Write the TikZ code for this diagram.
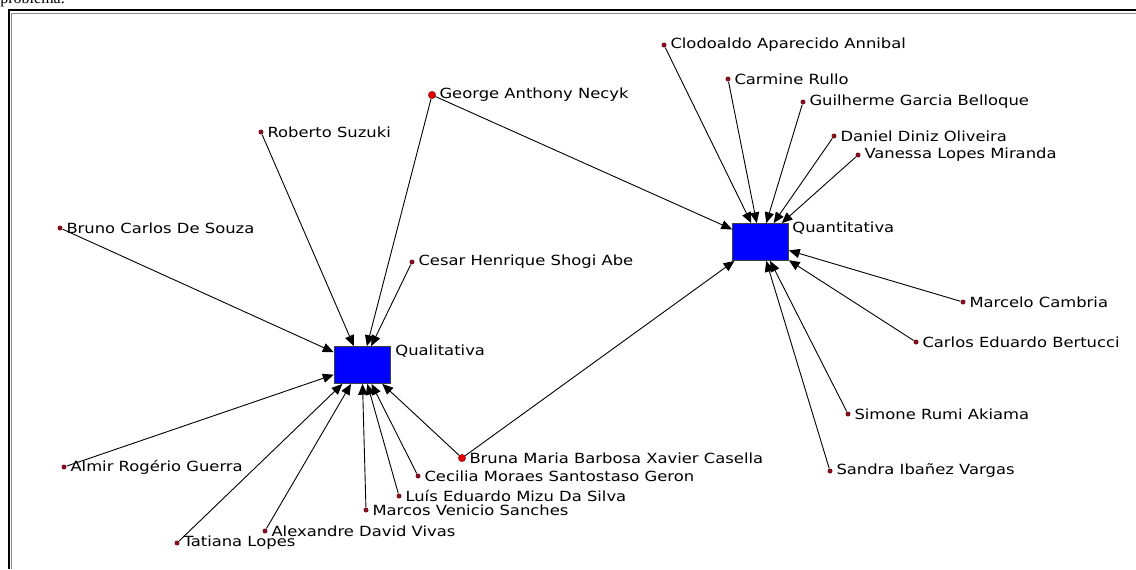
\documentclass[tikz,border=0pt]{standalone}
\usepackage{fontspec}
\setmainfont{DejaVu Sans}
\newfontfamily\rotulofonte[FakeStretch=1.17]{DejaVu Sans}
\newfontfamily\textoserif{Liberation Serif}
\usetikzlibrary{positioning,arrows.meta}
\definecolor{vinho}{RGB}{128,16,32}
\definecolor{vermelho}{RGB}{225,0,0}
\newcommand{\ator}[3]{\node[ator,label={[rotulo]right:#3}] (#1) at (#2) {};}
\newcommand{\ponte}[3]{\node[ponte,label={[rotulo]right:#3}] (#1) at (#2) {};}
\tikzset{
  ator/.style={circle,fill=vinho,inner sep=0pt,minimum size=2.5pt},
  ponte/.style={circle,fill=vermelho,draw=vinho,line width=0.2pt,inner sep=0pt,minimum size=3.7pt},
  rotulo/.style={font=\rotulofonte\fontsize{7}{8}\selectfont,inner sep=0pt},
  tipo/.style={rectangle,fill=blue,draw=black!75,line width=0.4pt,minimum width=28pt,minimum height=18.5pt,inner sep=0pt},
  seta/.style={-{Triangle[length=5.4pt,width=4.6pt]},line width=0.45pt},
}

\begin{document}
\begin{tikzpicture}[x=0.5pt,y=-0.5pt,label distance=1.6pt]
\useasboundingbox (0,0) rectangle (1136,569);
\begin{scope}
\clip (0,0) rectangle (1136,569);
\node[anchor=base west,inner sep=0pt,font=\textoserif\fontsize{8}{9}\selectfont] (titulo) at (0,3.5) {problema.};
\end{scope}
\draw[line width=1pt] (9,569) -- (9,10.3) -- (1136,10.3);
\draw[line width=0.5pt,black!45] (11.5,569) -- (11.5,13.2) -- (1136,13.2);

\node[tipo] (quali) at (362,365) {};
\node[rotulo,anchor=west] (qualiTxt) at (395,351) {Qualitativa};
\node[tipo] (quanti) at (760.5,242) {};
\node[rotulo,anchor=west] (quantiTxt) at (792,228) {Quantitativa};

\ponte{george}{432,95}{George Anthony Necyk}
\ponte{bruna}{462,458}{Bruna Maria Barbosa Xavier Casella}

\ator{roberto}{261,132}{Roberto Suzuki}
\ator{bruno}{60,228}{Bruno Carlos De Souza}
\ator{cesar}{412,262}{Cesar Henrique Shogi Abe}
\ator{almir}{64,467}{Almir Rogério Guerra}
\ator{tatiana}{177,543}{Tatiana Lopes}
\ator{alexandre}{265,531}{Alexandre David Vivas}
\ator{marcos}{366,510}{Marcos Venicio Sanches}
\ator{luis}{399,496}{Luís Eduardo Mizu Da Silva}
\ator{cecilia}{418,476}{Cecilia Moraes Santostaso Geron}

\ator{clodoaldo}{664,45}{Clodoaldo Aparecido Annibal}
\ator{carmine}{728,79}{Carmine Rullo}
\ator{guilherme}{803,102}{Guilherme Garcia Belloque}
\ator{daniel}{834,136}{Daniel Diniz Oliveira}
\ator{vanessa}{858,155}{Vanessa Lopes Miranda}
\ator{marcelo}{963,302}{Marcelo Cambria}
\ator{carlos}{916,342}{Carlos Eduardo Bertucci}
\ator{simone}{848,414}{Simone Rumi Akiama}
\ator{sandra}{830,471}{Sandra Ibañez Vargas}

\draw[seta] (george) -- (quali); \draw[seta] (roberto) -- (quali); \draw[seta] (bruno) -- (quali);
\draw[seta] (cesar) -- (quali); \draw[seta] (almir) -- (quali); \draw[seta] (tatiana) -- (quali);
\draw[seta] (alexandre) -- (quali); \draw[seta] (marcos) -- (quali); \draw[seta] (luis) -- (quali);
\draw[seta] (cecilia) -- (quali); \draw[seta] (bruna) -- (quali);

\draw[seta] (george) -- (quanti); \draw[seta] (bruna) -- (quanti); \draw[seta] (clodoaldo) -- (quanti);
\draw[seta] (carmine) -- (quanti); \draw[seta] (guilherme) -- (quanti); \draw[seta] (daniel) -- (quanti);
\draw[seta] (vanessa) -- (quanti); \draw[seta] (marcelo) -- (quanti); \draw[seta] (carlos) -- (quanti);
\draw[seta] (simone) -- (quanti); \draw[seta] (sandra) -- (quanti);
\end{tikzpicture}
\end{document}
